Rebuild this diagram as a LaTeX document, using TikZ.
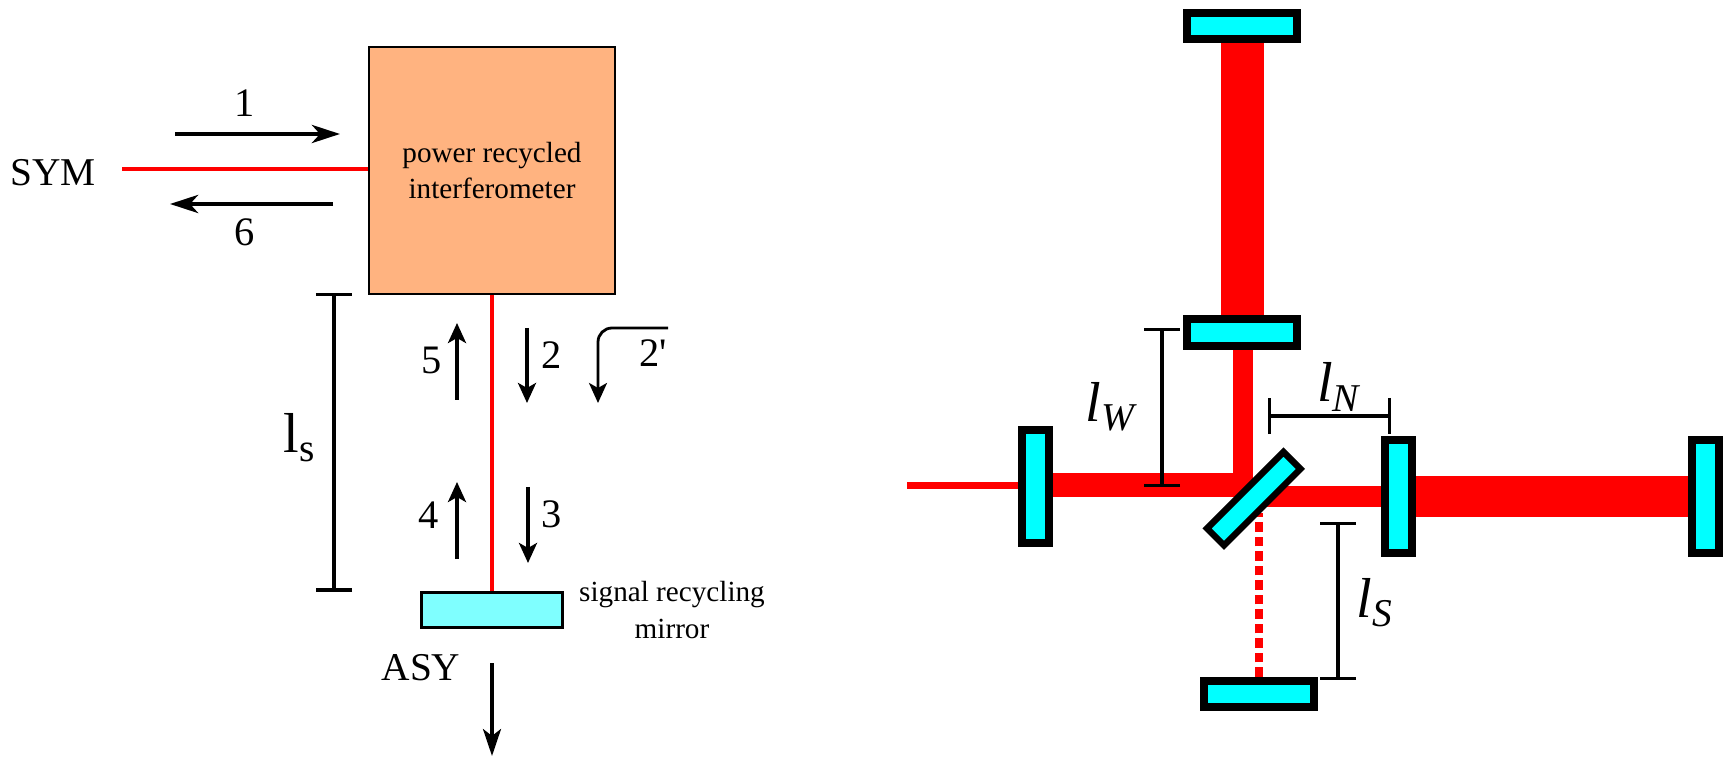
\documentclass[tikz,border=0pt]{standalone}
\usepackage{fontspec}
\setmainfont{Liberation Serif}[Ligatures=TeXOff]
\usetikzlibrary{arrows.meta,backgrounds}
\definecolor{boxorange}{HTML}{FFB380}
\definecolor{lightcyan}{HTML}{7FFFFF}
\definecolor{mirrorcyan}{HTML}{00FFFF}
\tikzset{
lbl/.style={inner sep=0pt,font=\fontsize{11.5}{14}\selectfont},
small/.style={inner sep=0pt,align=center,font=\fontsize{8.3}{10.4}\selectfont},
big/.style={inner sep=0pt,font=\fontsize{16}{18}\selectfont},
arr/.style={line width=.035cm,-{Stealth[length=.2cm,width=.18cm,inset=.05cm]}},
arrh/.style={line width=.045cm,-{Stealth[length=.28cm,width=.18cm,inset=.08cm]}},
dimbar/.style={line width=.032cm,{Bar[width=.36cm]}-{Bar[width=.36cm]}},
redline/.style={draw=red,line width=.04cm},
beam/.style={draw=red},
mirror/.style={draw,fill=mirrorcyan,line width=.08cm,inner sep=0pt},
hmir/.style={mirror,minimum width=1.10cm,minimum height=.26cm},
vmir/.style={mirror,minimum width=.27cm,minimum height=1.13cm}}
\begin{document}
\begin{tikzpicture}[x=.01cm,y=-.01cm]
\useasboundingbox(0,0)rectangle(1724,758);
% left part
\node[draw,line width=.025cm,fill=boxorange,minimum width=2.46cm,minimum height=2.47cm,small](prbox)at(492,170.5){power recycled\\interferometer};
\node[draw,line width=.035cm,fill=lightcyan,inner sep=0pt,minimum width=1.41cm,minimum height=.35cm](srm)at(492,610){};
\node[lbl,font=\fontsize{11.2}{14}\selectfont](sym)at(53,173){SYM};
\node[lbl,font=\fontsize{11.2}{14}\selectfont](asy)at(421,668){ASY};
\node[lbl](n1)at(245,103){1};
\node[lbl](n6)at(245,232){6};
\node[lbl](n5)at(432,360){5};
\node[lbl](n2)at(552,355){2};
\node[lbl](n2p)at(653,353){2'};
\node[lbl](n4)at(429,515){4};
\node[lbl](n3)at(552,514){3};
\node[small](srmlbl)at(672,610){signal recycling\\mirror};
\node[big](ls)at(300,438){l\textsubscript{s}};
\coordinate(symend)at(122,169);
\draw[redline](symend)--(symend-|prbox.west);
\draw[redline](prbox.south)--(srm.north);
\foreach\a/\xa/\ya/\xb/\yb in{a1/175/134/340/134,a6/333/204/170/204}{
\coordinate(\a s)at(\xa,\ya);\coordinate(\a e)at(\xb,\yb);
\draw[arrh](\a s)--(\a e);}
\foreach\a/\xa/\ya/\xb/\yb in{a5/457/400/457/323,a2/527/328/527/403,a4/457/559/457/482,a3/528/487/528/563}{
\coordinate(\a s)at(\xa,\ya);\coordinate(\a e)at(\xb,\yb);
\draw[arr](\a s)--(\a e);}
\coordinate(a7s)at(492,663);\coordinate(a7e)at(492,756);
\draw[arr,-{Stealth[length=.27cm,width=.18cm,inset=.07cm]}](a7s)--(a7e);
\coordinate(a8s)at(668,328);\coordinate(a8e)at(598,403);
\draw[arr,line width=.028cm,rounded corners=.14cm](a8s)-|(a8e);
\coordinate(lstop)at(334,293);\coordinate(lsbot)at(334,592);
\draw[dimbar,line width=.035cm](lstop)--(lsbot);
% right part
\node[hmir](mtop)at(1242,26){};
\node[hmir](mnorth)at(1242,332.5){};
\node[hmir](msouth)at(1259,694){};
\node[vmir](mwest)at(1035,486.5){};
\node[vmir](meast)at(1398.5,496.5){};
\node[vmir](mfar)at(1705,496.5){};
\node[mirror,line width=.065cm,minimum width=1.08cm,minimum height=.24cm,rotate=45](bs)at(1253.7,498.7){};
\node[big](lw)at(1112,407){\textit{l}\textsubscript{\textit{W}}};
\node[big](ln)at(1340,387){\textit{l}\textsubscript{\textit{N}}};
\node[big](lsr)at(1375,603){\textit{l}\textsubscript{\textit{S}}};
\coordinate(inend)at(907,485.5);
\coordinate(wcorner)at(1252,485);
\coordinate(ncorner)at(1243,497);
\coordinate(bseast)at(1254,496.5);
\coordinate(bssouth)at(1259,513);
\begin{scope}[on background layer]
\draw[beam,line width=.43cm](mtop.center)--(mnorth.center);
\draw[beam,line width=.195cm](ncorner)--(ncorner|-mnorth.center);
\draw[beam,line width=.24cm](mwest.center|-wcorner)--(wcorner);
\draw[beam,line width=.07cm](inend)--(inend-|mwest.center);
\draw[beam,line width=.2cm](bseast)--(meast.center);
\draw[beam,line width=.41cm](meast.center)--(mfar.center);
\draw[beam,line width=.08cm,dash pattern=on .095cm off .05cm](msouth.north)--(bssouth);
\end{scope}
\foreach\a/\xa/\ya/\xb/\yb in{dw/1162/328/1162/487,dn/1268/416/1391/416,ds/1338/522/1338/680}{
\coordinate(\a s)at(\xa,\ya);\coordinate(\a e)at(\xb,\yb);
\draw[dimbar](\a s)--(\a e);}
\end{tikzpicture}
\end{document}
